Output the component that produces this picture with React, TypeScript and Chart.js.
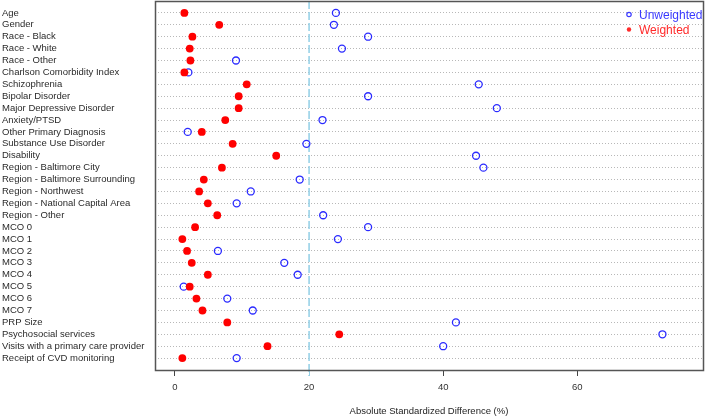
import React, { useEffect, useRef } from "react";
import { Chart, registerables } from "chart.js";

Chart.register(...registerables);

const covariates = [
  "Age",
  "Gender",
  "Race - Black",
  "Race - White",
  "Race - Other",
  "Charlson Comorbidity Index",
  "Schizophrenia",
  "Bipolar Disorder",
  "Major Depressive Disorder",
  "Anxiety/PTSD",
  "Other Primary Diagnosis",
  "Substance Use Disorder",
  "Disability",
  "Region - Baltimore City",
  "Region - Baltimore Surrounding",
  "Region - Northwest",
  "Region - National Capital Area",
  "Region - Other",
  "MCO 0",
  "MCO 1",
  "MCO 2",
  "MCO 3",
  "MCO 4",
  "MCO 5",
  "MCO 6",
  "MCO 7",
  "PRP Size",
  "Psychosocial services",
  "Visits with a primary care provider",
  "Receipt of CVD monitoring",
];

const unweighted = [
  24.0, 23.7, 28.8, 24.9, 9.1, 2.0, 45.3, 28.8, 48.0, 22.0, 1.9, 19.6, 44.9,
  46.0, 18.6, 11.3, 9.2, 22.1, 28.8, 24.3, 6.4, 16.3, 18.3, 1.3, 7.8, 11.6,
  41.9, 72.7, 40.0, 9.2,
];

const weighted = [
  1.4, 6.6, 2.6, 2.2, 2.3, 1.4, 10.7, 9.5, 9.5, 7.5, 4.0, 8.6, 15.1, 7.0, 4.3,
  3.6, 4.9, 6.3, 3.0, 1.1, 1.8, 2.5, 4.9, 2.2, 3.2, 4.1, 7.8, 24.5, 13.8, 1.1,
];

const xTickValues = [0, 20, 40, 60];
const threshold = 20;
const seriesNames = ["Unweighted", "Weighted"];

const FONT = "'Liberation Sans', Arial, sans-serif";
const BLUE = "#2a2aff";
const RED = "#ff0000";
const LINE_BLUE = "#92cfe6";

export default function App() {
  const ref = useRef<HTMLCanvasElement>(null);

  useEffect(() => {
    document.body.style.margin = "0";

    const boxPlugin = {
      id: "boxAndRef",
      beforeDatasetsDraw(chart: any) {
        const { ctx, chartArea, scales } = chart;
        const x = scales.x.getPixelForValue(threshold);
        ctx.save();
        ctx.strokeStyle = LINE_BLUE;
        ctx.lineWidth = 1.5;
        ctx.setLineDash([8, 3]);
        ctx.beginPath();
        ctx.moveTo(x, chartArea.top);
        ctx.lineTo(x, chartArea.bottom + 6);
        ctx.stroke();
        ctx.restore();
      },
      afterDraw(chart: any) {
        const { ctx, chartArea } = chart;
        ctx.save();
        ctx.strokeStyle = "#555";
        ctx.lineWidth = 1.5;
        ctx.strokeRect(
          Math.round(chartArea.left) + 0.5,
          Math.round(chartArea.top) + 0.5,
          Math.round(chartArea.right - chartArea.left),
          Math.round(chartArea.bottom - chartArea.top)
        );
        // legend
        const lx = chartArea.right - 74;
        const rows = [
          { label: seriesNames[0], color: "#3a3aff", filled: false, y: chartArea.top + 14.5 },
          { label: seriesNames[1], color: "#ff2a2a", filled: true, y: chartArea.top + 29.5 },
        ];
        ctx.font = `12px ${FONT}`;
        ctx.textBaseline = "middle";
        ctx.textAlign = "left";
        for (const r of rows) {
          ctx.beginPath();
          ctx.arc(lx, r.y - 1, 2.2, 0, Math.PI * 2);
          if (r.filled) {
            ctx.fillStyle = r.color;
            ctx.fill();
          } else {
            ctx.strokeStyle = r.color;
            ctx.lineWidth = 1.2;
            ctx.stroke();
          }
          ctx.fillStyle = r.color;
          ctx.fillText(r.label, lx + 10, r.y);
        }
        ctx.restore();
      },
    };

    const chart = new Chart(ref.current!, {
      type: "scatter",
      data: {
        datasets: [
          {
            label: seriesNames[0],
            data: unweighted.map((v, i) => ({ x: v, y: i + 1 })),
            pointStyle: "circle",
            pointRadius: 3.5,
            borderWidth: 1.3,
            borderColor: BLUE,
            backgroundColor: "rgba(0,0,0,0)",
            order: 1,
          },
          {
            label: seriesNames[1],
            data: weighted.map((v, i) => ({ x: v, y: i + 1 })),
            pointStyle: "circle",
            pointRadius: 3.9,
            borderWidth: 0,
            borderColor: RED,
            backgroundColor: RED,
            order: 0,
          },
        ],
      },
      options: {
        animation: false,
        responsive: true,
        maintainAspectRatio: false,
        layout: { autoPadding: false, padding: { left: 2, right: 5, top: 1, bottom: 0 } },
        plugins: {
          legend: { display: false },
          tooltip: { enabled: false },
        },
        scales: {
          x: {
            type: "linear",
            min: -2.98,
            max: 78.75,
            afterBuildTicks: (axis: any) => {
              axis.ticks = xTickValues.map((v) => ({ value: v }));
            },
            afterFit: (axis: any) => {
              axis.height = 48;
              axis.paddingLeft = 0;
              axis.paddingRight = 0;
            },
            border: { display: false },
            grid: {
              drawOnChartArea: false,
              drawTicks: true,
              tickLength: 6,
              tickColor: (c: any) => (c.tick && c.tick.value === threshold ? LINE_BLUE : "#444"),
            },
            ticks: {
              padding: 6,
              color: "#333",
              font: { family: FONT, size: 9.5 },
              maxRotation: 0,
            },
            title: {
              display: true,
              text: "Absolute Standardized Difference (%)",
              color: "#222",
              font: { family: FONT, size: 9.5 },
              padding: { top: 0, bottom: 1 },
            },
          },
          y: {
            type: "linear",
            reverse: true,
            min: 0,
            max: 31,
            afterBuildTicks: (axis: any) => {
              axis.ticks = covariates.map((_, i) => ({ value: i + 1 }));
            },
            afterFit: (axis: any) => {
              axis.width = 153;
              axis.paddingTop = 0;
              axis.paddingBottom = 0;
            },
            border: { display: false, dash: [1, 2] },
            grid: {
              drawTicks: false,
              color: "#b8b8b8",
              lineWidth: 1,
            },
            ticks: {
              crossAlign: "far",
              autoSkip: false,
              color: "#2a2a2a",
              font: { family: FONT, size: 9.5, lineHeight: 0.1 },
              callback: (v: any) => covariates[Math.round(v) - 1] ?? "",
            },
          },
        },
      },
      plugins: [boxPlugin],
    });
    return () => chart.destroy();
  }, []);

  return (
    <div style={{ width: 708, height: 418, position: "relative" }}>
      <canvas ref={ref} />
    </div>
  );
}
